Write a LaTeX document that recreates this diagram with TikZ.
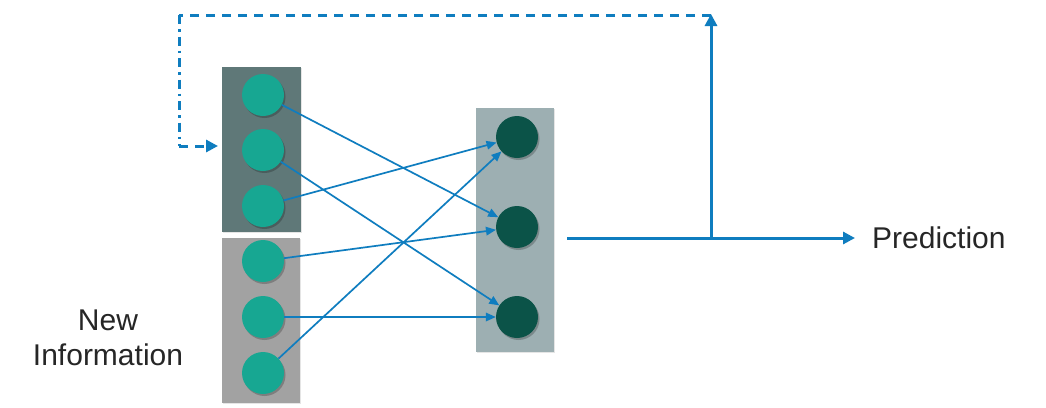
\documentclass[tikz,border=0pt]{standalone}
\usepackage{fontspec}
\setmainfont{Liberation Sans}
\usetikzlibrary{arrows.meta,shadows}
\definecolor{topbox}{HTML}{5F7878}
\definecolor{botbox}{HTML}{A2A2A2}
\definecolor{rbox}{HTML}{9DAFB2}
\definecolor{lcirc}{HTML}{17A792}
\definecolor{rcirc}{HTML}{0B5348}
\definecolor{lineblue}{HTML}{0F7DBF}
\definecolor{txt}{HTML}{262626}
\tikzset{
  shd/.style={drop shadow={shadow xshift=1.5pt,shadow yshift=-2pt,opacity=0.22,fill=black}},
  boxshd/.style={drop shadow={shadow xshift=1pt,shadow yshift=-1pt,opacity=0.1,fill=black}},
  layerbox/.style={rectangle,inner sep=0pt,boxshd},
  incirc/.style={circle,fill=lcirc,minimum size=42pt,inner sep=0pt,shd},
  outcirc/.style={circle,fill=rcirc,minimum size=42pt,inner sep=0pt,shd},
  conn/.style={draw=lineblue,line width=1.7pt,-{Triangle[length=10pt,width=8.5pt]}},
  flow/.style={draw=lineblue,line width=3pt},
  flowtip/.style={-{Triangle[length=12pt,width=12pt]}},
  lbl/.style={text=txt,inner sep=0pt,font=\fontsize{30}{35}\selectfont},
}
\begin{document}
\begin{tikzpicture}[x=1pt,y=-1pt]
\useasboundingbox[fill=white] (0,0) rectangle (1046,407);
% layer boxes
\node[layerbox,fill=topbox,minimum width=79pt,minimum height=165pt] (btop) at (261.5,149.5) {};
\node[layerbox,fill=botbox,minimum width=78pt,minimum height=165pt] (bbot) at (261,320.5) {};
\node[layerbox,fill=rbox,minimum width=78pt,minimum height=244pt] (bright) at (515,230) {};
% input circles
\node[incirc] (L1) at (263,95) {};
\node[incirc] (L2) at (263,150) {};
\node[incirc] (L3) at (263,206) {};
\node[incirc] (L4) at (263,261) {};
\node[incirc] (L5) at (263,317) {};
\node[incirc] (L6) at (263,373) {};
% output circles
\node[outcirc] (R1) at (517,137) {};
\node[outcirc] (R2) at (517,227) {};
\node[outcirc] (R3) at (517,317) {};
% connections
\draw[conn] (L1) -- (R2);
\draw[conn] (L2) -- (R3);
\draw[conn] (L3) -- (R1);
\draw[conn] (L4) -- (R2);
\draw[conn] (L5) -- (R3);
\draw[conn] (L6) -- (R1);
% output flow
\coordinate (ostart) at (567,238);
\coordinate (oend) at (855,238);
\coordinate (branch) at (711,238);
\coordinate (btopc) at (711,14);
\coordinate (tl) at (179,15);
\coordinate (bl) at (179,146);
\coordinate (fb) at (218,146);
\node[lbl,anchor=base west] (pred) at (872,248) {Prediction};
\draw[flow,flowtip] (ostart) -- (oend);
\draw[flow,flowtip] (branch) -- (btopc);
\draw[flow,dash pattern=on 9pt off 7pt] (711,15) -- (tl);
\draw[flow,dash pattern=on 9pt off 5pt on 2.5pt off 5pt] (tl) -- (bl);
\draw[flow,dash pattern=on 9pt off 7pt,flowtip] (bl) -- (fb);
% label
\node[lbl,anchor=base] (new) at (108,330) {New};
\node[lbl,anchor=base] (info) at (108,365) {Information};
\end{tikzpicture}
\end{document}
